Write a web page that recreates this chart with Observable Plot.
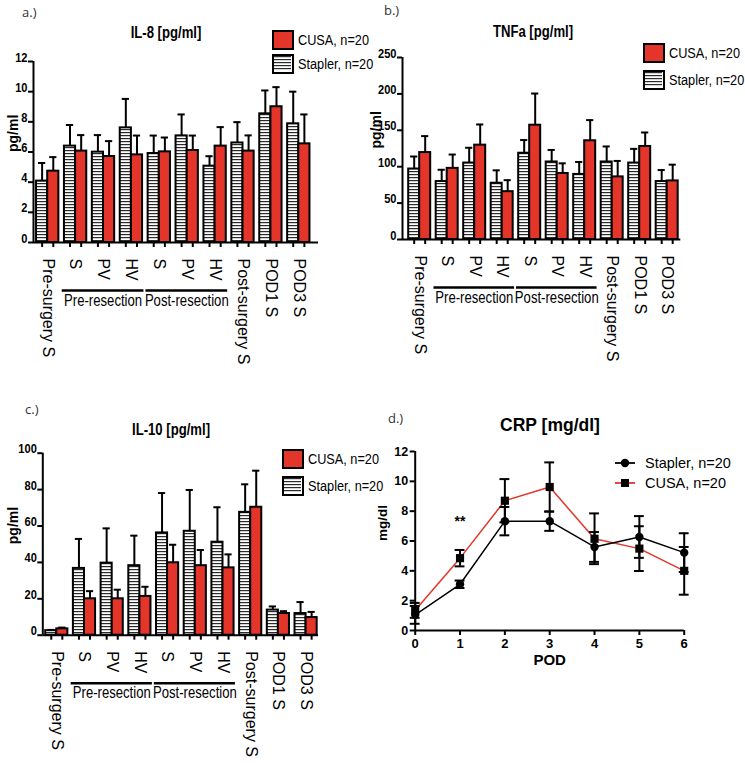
<!DOCTYPE html>
<html>
<head>
<meta charset="utf-8">
<script src="https://cdn.jsdelivr.net/npm/d3@7"></script>
<script src="https://cdn.jsdelivr.net/npm/@observablehq/plot@0.6"></script>
<style>
  body { margin: 0; background: #fff; }
  #fig { position: relative; width: 745px; height: 764px; overflow: hidden; background: #fff; font-family: "Liberation Sans", Arial, sans-serif; color: #000; }
  .lbl { position: absolute; white-space: nowrap; line-height: 1; }
  .box { position: absolute; box-sizing: border-box; border: 2.5px solid #000; }
</style>
</head>
<body>
<svg width="0" height="0" style="position:absolute">
  <defs>
    <pattern id="stripes" patternUnits="userSpaceOnUse" width="6" height="3">
      <rect width="6" height="3" fill="#fff"></rect>
      <rect y="0" width="6" height="1.2" fill="#2a2a2a"></rect>
    </pattern>
  </defs>
</svg>
<div id="fig"></div>
<script>
// ---------------- DATA ----------------
const groupLabels = ["Pre-surgery S", "S", "PV", "HV", "S", "PV", "HV", "Post-surgery S", "POD1 S", "POD3 S"];
const brackets = [
  {label: "Pre-resection", from: 1, to: 3},
  {label: "Post-resection", from: 4, to: 6}
];
const seriesCUSA = "CUSA, n=20";
const seriesStapler = "Stapler, n=20";

// IL-8 [pg/ml]
const il8Stapler   = [4.07, 6.39, 5.99, 7.6, 5.9, 7.07, 5.06, 6.6, 8.53, 7.87];
const il8StaplerSD = [1.2, 1.4, 1.13, 1.92, 1.19, 1.42, 0.66, 1.38, 1.55, 2.13];
const il8CUSA      = [4.73, 6.06, 5.7, 5.81, 6.01, 6.1, 6.39, 6.06, 9.0, 6.54];
const il8CUSASD    = [0.93, 1.06, 1.02, 1.28, 0.95, 0.99, 1.26, 1.04, 1.3, 1.95];
const il8Ticks = [0, 2, 4, 6, 8, 10, 12];

// TNFa [pg/ml]
const tnfStapler   = [96.8, 79.6, 105, 77.3, 118.5, 106.5, 89.4, 106.5, 105, 79.6];
const tnfStaplerSD = [17.2, 16.2, 21, 17.7, 18.1, 16.5, 17.1, 21.3, 19.5, 15.8];
const tnfCUSA      = [119.4, 97.7, 129.6, 65.7, 157, 90.7, 135.6, 86, 127.8, 80.5];
const tnfCUSASD    = [22.6, 19, 28.4, 15.8, 43.5, 13.9, 28.4, 21.9, 19.2, 22.3];
const tnfTicks = [0, 50, 100, 150, 200, 250];

// IL-10 [pg/ml]
const il10Stapler   = [2.5, 36.7, 39.6, 38.2, 56.2, 57.1, 51.1, 67.5, 13.8, 11.9];
const il10StaplerSD = [0.4, 16.2, 19.1, 16.5, 21.9, 22.7, 19.2, 15.4, 2.0, 6.3];
const il10CUSA      = [3.5, 20, 20, 21.3, 39.8, 38.2, 37, 70.3, 11.9, 9.7];
const il10CUSASD    = [0.7, 4.2, 5, 5.3, 9.9, 8.6, 7.4, 20.1, 1.3, 3.1];
const il10Ticks = [0, 20, 40, 60, 80, 100];

// CRP [mg/dl]
const crpPod       = [0, 1, 2, 3, 4, 5, 6];
const crpStapler   = [1.05, 3.1, 7.33, 7.33, 5.6, 6.27, 5.22];
const crpStaplerSD = [0.6, 0.25, 0.95, 0.65, 1.0, 1.4, 1.3];
const crpCUSA      = [1.35, 4.85, 8.7, 9.62, 6.15, 5.49, 4.0];
const crpCUSASD    = [0.5, 0.55, 1.45, 1.65, 1.7, 1.5, 1.6];
const crpTicksY = [0, 2, 4, 6, 8, 10, 12];
const crpAnnot = [{pod: 1, text: "**"}];

// ---------------- STYLE ----------------
const RED = "#e4352b";
function hasFont(name) {
  const c = document.createElement("canvas").getContext("2d");
  const s = "abcdefghijklmnopqrstuvwxyzABCDEFGHIJ0123456789";
  c.font = "40px monospace"; const a = c.measureText(s).width;
  c.font = `40px "${name}", monospace`; const b = c.measureText(s).width;
  return Math.abs(a - b) > 0.5;
}
const narrowName = hasFont("Liberation Sans Narrow") ? "Liberation Sans Narrow"
                 : hasFont("Arial Narrow") ? "Arial Narrow" : null;
const NARROW = narrowName ? `"${narrowName}", "Liberation Sans", Arial, sans-serif` : `"Liberation Sans", Arial, sans-serif`;
const SQ = narrowName ? 1 : 0.82;
const SANS = `"Liberation Sans", Arial, sans-serif`;

const fig = document.getElementById("fig");

function label(text, x, y, {size = 14, weight = "normal", family = SANS, anchor = "left", squeeze = 1, color = "#000"} = {}) {
  const d = document.createElement("div");
  d.className = "lbl";
  d.textContent = text;
  d.style.left = x + "px";
  d.style.top = y + "px";
  d.style.fontSize = size + "px";
  d.style.fontWeight = weight;
  d.style.fontFamily = family;
  d.style.color = color;
  if (anchor === "center") {
    d.style.transform = `translate(-50%,-50%) scaleX(${squeeze})`;
    d.style.transformOrigin = "50% 50%";
  } else {
    d.style.transformOrigin = "0 50%";
    d.style.transform = `translate(0,-50%) scaleX(${squeeze})`;
  }
  fig.appendChild(d);
}
function box(x, y, fill) {
  const b = document.createElement("div");
  b.className = "box";
  b.style.left = x + "px"; b.style.top = y + "px";
  b.style.width = "22px"; b.style.height = "20px";
  if (fill === "stripes") {
    b.innerHTML = '<svg width="17" height="15" style="display:block"><rect width="17" height="15" fill="url(#stripes)"></rect></svg>';
  } else {
    b.style.background = fill;
  }
  fig.appendChild(b);
}
function squeezeEl(t, s) {
  const x = +t.getAttribute("x") || 0, y = +t.getAttribute("y") || 0;
  t.removeAttribute("x"); t.removeAttribute("y");
  const tr = t.getAttribute("transform") || "";
  t.setAttribute("transform", `${tr} translate(${x},${y}) scale(${s},1)`);
}
function squeezeTexts(svg, s, matches) {
  if (s === 1) return;
  svg.querySelectorAll("text").forEach(t => {
    if (matches.includes(t.textContent)) squeezeEl(t, s);
  });
}
function place(svg, left, top) {
  svg.style.position = "absolute";
  svg.style.left = left + "px";
  svg.style.top = top + "px";
  svg.style.overflow = "visible";
  svg.style.maxWidth = "none";
  fig.appendChild(svg);
}

// ---------------- BAR PANELS ----------------
function barPanel(cfg) {
  const w = 0.4, cap = 0.13;
  const stap = groupLabels.map((g, i) => ({i, x1: i - w, x2: i, cx: i - w / 2, v: cfg.stapler[i], e: cfg.staplerSD[i]}));
  const cusa = groupLabels.map((g, i) => ({i, x1: i, x2: i + w, cx: i + w / 2, v: cfg.cusa[i], e: cfg.cusaSD[i]}));
  const all = stap.concat(cusa);
  const groupRows = groupLabels.map((lab, i) => ({lab, i}));
  const [x0, xN] = cfg.xDomain;
  const yMax = cfg.ticks[cfg.ticks.length - 1];
  const svg = Plot.plot({
    width: cfg.width, height: cfg.height,
    marginLeft: cfg.mL, marginRight: cfg.mR, marginTop: cfg.mT, marginBottom: cfg.mB,
    x: {domain: cfg.xDomain, axis: null},
    y: {domain: [0, yMax], axis: null},
    style: {background: "transparent", overflow: "visible", fontFamily: NARROW, color: "black"},
    marks: [
      Plot.rectY(stap, {x1: "x1", x2: "x2", y1: () => 0, y2: "v", fill: "url(#stripes)", stroke: "black", strokeWidth: 2}),
      Plot.rectY(cusa, {x1: "x1", x2: "x2", y1: () => 0, y2: "v", fill: RED, stroke: "black", strokeWidth: 2}),
      Plot.ruleX(all, {x: "cx", y1: "v", y2: d => d.v + d.e, stroke: "black", strokeWidth: 2}),
      Plot.ruleY(all, {y: d => d.v + d.e, x1: d => d.cx - cap, x2: d => d.cx + cap, stroke: "black", strokeWidth: 2}),
      Plot.ruleX([x0], {y1: () => 0, y2: () => yMax, stroke: "black", strokeWidth: 2}),
      Plot.ruleY([0], {x1: () => x0, x2: () => xN, stroke: "black", strokeWidth: 2}),
      Plot.axisY({anchor: "left", ticks: cfg.ticks, tickSize: 5, tickPadding: 1, strokeWidth: 2, fontSize: 13.5, fontWeight: "bold", label: null}),
      Plot.axisX({anchor: "bottom", ticks: all.map(d => d.cx), tickSize: 5, strokeWidth: 2, tickFormat: () => "", label: null}),
      Plot.text(groupRows, {x: "i", y: () => 0, text: "lab", rotate: 90, textAnchor: "start", dy: 16, fontSize: 16, fontFamily: SANS}),
      Plot.ruleY(brackets, {y: () => 0, x1: d => d.from - 0.48, x2: d => d.to + 0.45, dy: 48, stroke: "black", strokeWidth: 2.5}),
      Plot.text(brackets, {x: d => (d.from - 0.48 + d.to + 0.45) / 2, y: () => 0, text: "label", dy: 63, fontSize: 16}),
      Plot.text([cfg.yLabel], {frameAnchor: "left", rotate: -90, dx: cfg.yLabelDx, text: d => d, fontSize: 14, fontWeight: "bold", fontFamily: SANS})
    ]
  });
  squeezeTexts(svg, SQ, brackets.map(b => b.label).concat(cfg.ticks.map(String)));
  place(svg, cfg.left, cfg.top);
}

barPanel({left: 0, top: 0, width: 372, height: 380, mL: 33, mR: 54, mT: 61, mB: 138,
  xDomain: [-0.509, 9.706], ticks: il8Ticks, yLabel: "pg/ml", yLabelDx: -20,
  stapler: il8Stapler, staplerSD: il8StaplerSD, cusa: il8CUSA, cusaSD: il8CUSASD});
barPanel({left: 372, top: 0, width: 373, height: 380, mL: 30, mR: 64.7, mT: 57, mB: 141,
  xDomain: [-0.625, 9.495], ticks: tnfTicks, yLabel: "pg/ml", yLabelDx: -26,
  stapler: tnfStapler, staplerSD: tnfStaplerSD, cusa: tnfCUSA, cusaSD: tnfCUSASD});
barPanel({left: 0, top: 380, width: 372, height: 384, mL: 42.3, mR: 54, mT: 72.7, mB: 129.3,
  xDomain: [-0.505, 9.448], ticks: il10Ticks, yLabel: "pg/ml", yLabelDx: -29,
  stapler: il10Stapler, staplerSD: il10StaplerSD, cusa: il10CUSA, cusaSD: il10CUSASD});

// ---------------- CRP PANEL ----------------
(function () {
  const stap = crpPod.map((p, i) => ({pod: p, v: crpStapler[i], e: crpStaplerSD[i]}));
  const cusa = crpPod.map((p, i) => ({pod: p, v: crpCUSA[i], e: crpCUSASD[i]}));
  const all = cusa.concat(stap);
  const cap = 0.11;
  const svg = Plot.plot({
    width: 373, height: 384, marginLeft: 42.7, marginRight: 61.3, marginTop: 71, marginBottom: 134,
    x: {domain: [0, 6], axis: null},
    y: {domain: [0, 12], axis: null},
    style: {background: "transparent", overflow: "visible", fontFamily: SANS, color: "black"},
    marks: [
      Plot.ruleX([0], {y1: () => 0, y2: () => 12, stroke: "black", strokeWidth: 2}),
      Plot.ruleY([0], {x1: () => 0, x2: () => 6, stroke: "black", strokeWidth: 2}),
      Plot.axisY({anchor: "left", ticks: crpTicksY, tickSize: 5, tickPadding: 2, strokeWidth: 2, fontSize: 12.5, fontWeight: "bold", label: null}),
      Plot.axisX({anchor: "bottom", ticks: crpPod, tickSize: 5, tickPadding: 3, strokeWidth: 2, fontSize: 13, fontWeight: "bold", label: null, tickFormat: d => String(d)}),
      Plot.text(["POD"], {frameAnchor: "bottom", dy: 34, text: d => d, fontSize: 15, fontWeight: "bold"}),
      Plot.text(["mg/dl"], {frameAnchor: "left", rotate: -90, dx: -32.7, text: d => d, fontSize: 13.5, fontWeight: "bold"}),
      Plot.line(cusa, {x: "pod", y: "v", stroke: RED, strokeWidth: 1.5}),
      Plot.line(stap, {x: "pod", y: "v", stroke: "black", strokeWidth: 1.5}),
      Plot.ruleX(all, {x: "pod", y1: d => d.v - d.e, y2: d => d.v + d.e, stroke: "black", strokeWidth: 2}),
      Plot.ruleY(all, {y: d => d.v + d.e, x1: d => d.pod - cap, x2: d => d.pod + cap, stroke: "black", strokeWidth: 2}),
      Plot.ruleY(all, {y: d => d.v - d.e, x1: d => d.pod - cap, x2: d => d.pod + cap, stroke: "black", strokeWidth: 2}),
      Plot.dot(stap, {x: "pod", y: "v", r: 4.2, fill: "black"}),
      Plot.dot(cusa, {x: "pod", y: "v", r: 4.6, symbol: "square", fill: "black"}),
      Plot.text(crpAnnot, {x: "pod", y: d => crpCUSA[crpPod.indexOf(d.pod)] + crpCUSASD[crpPod.indexOf(d.pod)], text: "text", dy: -28, fontSize: 14, fontWeight: "bold"})
    ]
  });
  place(svg, 372, 380);
})();

// ---------------- TITLES, PANEL LETTERS, LEGENDS ----------------
const letterStyle = {size: 13, family: `"Open Sans", "Liberation Sans", sans-serif`, color: "#333"};
label("a.)", 22, 12, letterStyle);
label("b.)", 384, 10, letterStyle);
label("c.)", 25, 409, letterStyle);
label("d.)", 388, 418, letterStyle);

label("IL-8 [pg/ml]", 166, 33, {size: 16, weight: "bold", family: NARROW, anchor: "center", squeeze: SQ});
label("TNFa [pg/ml]", 533, 32, {size: 16, weight: "bold", family: NARROW, anchor: "center", squeeze: SQ});
label("IL-10 [pg/ml]", 171, 430, {size: 16, weight: "bold", family: NARROW, anchor: "center", squeeze: SQ});
label("CRP [mg/dl]", 550, 426, {size: 17.5, weight: "bold", family: SANS, anchor: "center"});

function barLegend(x, y1, y2) {
  box(x, y1, RED);
  box(x, y2, "stripes");
  label(seriesCUSA, x + 26, y1 + 10, {size: 15.5, family: NARROW, squeeze: SQ});
  label(seriesStapler, x + 26, y2 + 10, {size: 15.5, family: NARROW, squeeze: SQ});
}
barLegend(272, 30, 54);
barLegend(643, 43, 70);
barLegend(282, 449, 476);

function lineLegend(x, y, color, symbol, text) {
  const s = document.createElement("div");
  s.style.position = "absolute";
  s.style.left = (x - 12) + "px";
  s.style.top = (y - 6) + "px";
  const mk = symbol === "circle"
    ? '<circle cx="12" cy="6" r="4.2" fill="#000"></circle>'
    : '<rect x="8" y="2" width="8" height="8" fill="#000"></rect>';
  s.innerHTML = `<svg width="24" height="12" style="display:block"><line x1="2" x2="22" y1="6" y2="6" stroke="${color}" stroke-width="1.8"></line>${mk}</svg>`;
  fig.appendChild(s);
  label(text, x + 20, y, {size: 14.5, family: SANS});
}
lineLegend(625, 463, "#000", "circle", seriesStapler);
lineLegend(625, 483, RED, "square", seriesCUSA);
</script>
</body>
</html>
